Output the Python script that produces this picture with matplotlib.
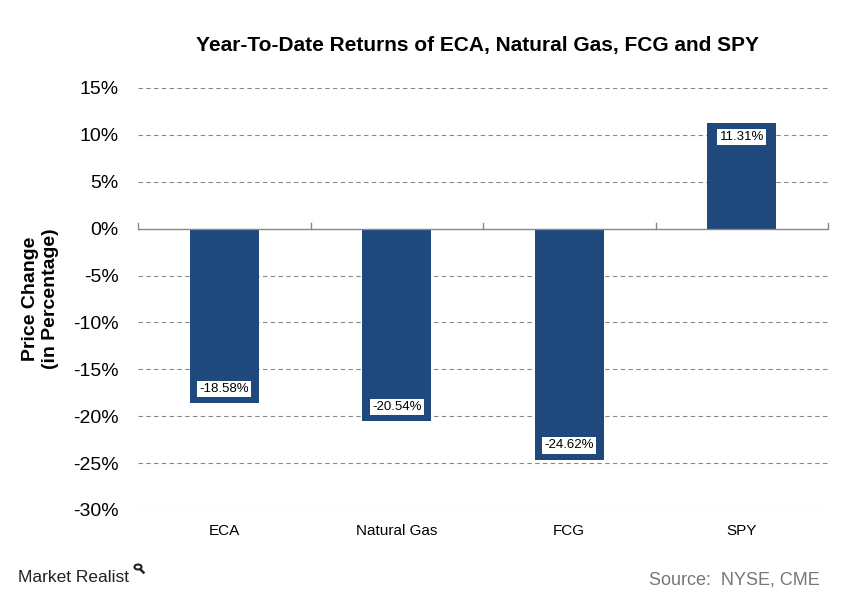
import matplotlib
matplotlib.use("Agg")
import matplotlib.pyplot as plt
from matplotlib.patches import Circle
from matplotlib.lines import Line2D
import numpy as np

categories = ["ECA", "Natural Gas", "FCG", "SPY"]
returns = [-18.58, -20.54, -24.62, 11.31]
yticks = [15, 10, 5, 0, -5, -10, -15, -20, -25, -30]

plt.rcParams['font.family'] = ['Liberation Sans', 'DejaVu Sans']

fig = plt.figure(figsize=(8.42, 6.0), dpi=100)
ax = fig.add_axes([138/842, 1-510/600, (828-138)/842, (510-88)/600])

x = np.arange(len(categories))
ax.bar(x, returns, width=0.4, color="#1F497D", zorder=3)
ax.set_xlim(-0.5, len(categories)-0.5)
ax.set_ylim(-30, 15)
ax.set_yticks(yticks)
ax.set_yticklabels([f"{v}%" for v in yticks], fontsize=14)
for v in yticks:
    if v != 0:
        ax.axhline(v, color="#888888", lw=0.8, ls=(0, (4, 3)), zorder=1)
ax.axhline(0, color="#888888", lw=1.0, zorder=4)
for b in np.arange(-0.5, len(categories)+0.5, 1.0):
    ax.plot([b, b], [0, 0.6], color="#888888", lw=1.0, zorder=4, clip_on=False)

ax.set_xticks(x)
ax.set_xticklabels(categories, fontsize=11)
ax.tick_params(axis='x', length=0, pad=10)
ax.tick_params(axis='y', length=0, pad=14)
for s in ax.spines.values():
    s.set_visible(False)

for xi, v in zip(x, returns):
    y = v + 1.5 if v < 0 else v - 1.5
    ax.text(xi, y, f"{v:.2f}%", ha="center", va="center", fontsize=9.5, color="black",
            bbox=dict(facecolor="white", edgecolor="none", pad=1.5), zorder=5)

ax.set_ylabel("Price Change\n(in Percentage)", fontsize=14, fontweight="bold", labelpad=10)

fig.text(478/842, 1-45/600, "Year-To-Date Returns of ECA, Natural Gas, FCG and SPY",
         ha="center", va="center", fontsize=15, fontweight="bold")
fig.text(18/842, 1-578/600, "Market Realist", ha="left", va="center", fontsize=12.5,
         color="#222222")
# small magnifier icon
cx, cy, r = 138, 567, 3.5
fig.patches.append(Circle((cx/842, 1-cy/600), r/842, transform=fig.transFigure,
                          fill=False, edgecolor="#222222", lw=1.5))
fig.lines.append(Line2D([(cx+2.5)/842, (cx+5.5)/842], [1-(cy+2.5)/600, 1-(cy+5.5)/600],
                        transform=fig.transFigure, color="#222222", lw=1.8))
fig.text(820/842, 1-580/600, "Source:  NYSE, CME", ha="right", va="center", fontsize=13,
         color="#777777")

fig.savefig("out.png", dpi=100)
